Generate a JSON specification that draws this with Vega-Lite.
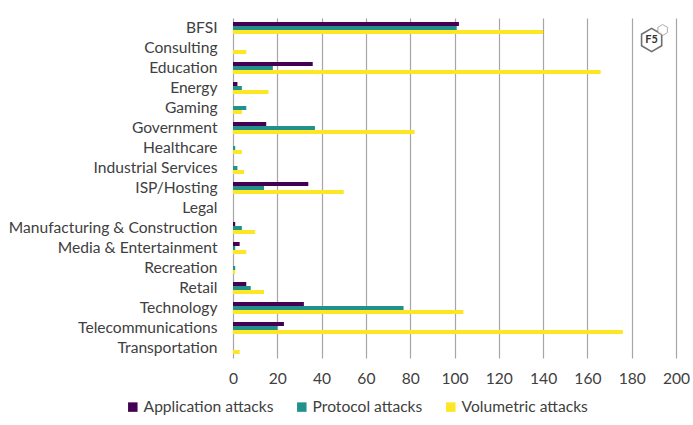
{
  "$schema": "https://vega.github.io/schema/vega-lite/v6.json",
  "width": 443,
  "height": 340,
  "autosize": "none",
  "padding": {"left": 233, "top": 18, "right": 17, "bottom": 67},
  "background": "white",
  "config": {
    "font": "Lato",
    "view": {"stroke": null}
  },
  "datasets": {
    "logo": [{"sector": "BFSI", "count": 189, "label": "F5"}]
  },
  "data": {
    "values": [
      {"sector": "BFSI", "type": "Application attacks", "count": 102},
      {"sector": "BFSI", "type": "Protocol attacks", "count": 101},
      {"sector": "BFSI", "type": "Volumetric attacks", "count": 140},
      {"sector": "Consulting", "type": "Application attacks", "count": 0},
      {"sector": "Consulting", "type": "Protocol attacks", "count": 0},
      {"sector": "Consulting", "type": "Volumetric attacks", "count": 6},
      {"sector": "Education", "type": "Application attacks", "count": 36},
      {"sector": "Education", "type": "Protocol attacks", "count": 18},
      {"sector": "Education", "type": "Volumetric attacks", "count": 166},
      {"sector": "Energy", "type": "Application attacks", "count": 2},
      {"sector": "Energy", "type": "Protocol attacks", "count": 4},
      {"sector": "Energy", "type": "Volumetric attacks", "count": 16},
      {"sector": "Gaming", "type": "Application attacks", "count": 0},
      {"sector": "Gaming", "type": "Protocol attacks", "count": 6},
      {"sector": "Gaming", "type": "Volumetric attacks", "count": 4},
      {"sector": "Government", "type": "Application attacks", "count": 15},
      {"sector": "Government", "type": "Protocol attacks", "count": 37},
      {"sector": "Government", "type": "Volumetric attacks", "count": 82},
      {"sector": "Healthcare", "type": "Application attacks", "count": 0},
      {"sector": "Healthcare", "type": "Protocol attacks", "count": 1},
      {"sector": "Healthcare", "type": "Volumetric attacks", "count": 4},
      {"sector": "Industrial Services", "type": "Application attacks", "count": 0},
      {"sector": "Industrial Services", "type": "Protocol attacks", "count": 2},
      {"sector": "Industrial Services", "type": "Volumetric attacks", "count": 5},
      {"sector": "ISP/Hosting", "type": "Application attacks", "count": 34},
      {"sector": "ISP/Hosting", "type": "Protocol attacks", "count": 14},
      {"sector": "ISP/Hosting", "type": "Volumetric attacks", "count": 50},
      {"sector": "Legal", "type": "Application attacks", "count": 0},
      {"sector": "Legal", "type": "Protocol attacks", "count": 0},
      {"sector": "Legal", "type": "Volumetric attacks", "count": 0},
      {"sector": "Manufacturing & Construction", "type": "Application attacks", "count": 1},
      {"sector": "Manufacturing & Construction", "type": "Protocol attacks", "count": 4},
      {"sector": "Manufacturing & Construction", "type": "Volumetric attacks", "count": 10},
      {"sector": "Media & Entertainment", "type": "Application attacks", "count": 3},
      {"sector": "Media & Entertainment", "type": "Protocol attacks", "count": 1},
      {"sector": "Media & Entertainment", "type": "Volumetric attacks", "count": 6},
      {"sector": "Recreation", "type": "Application attacks", "count": 0},
      {"sector": "Recreation", "type": "Protocol attacks", "count": 1},
      {"sector": "Recreation", "type": "Volumetric attacks", "count": 1},
      {"sector": "Retail", "type": "Application attacks", "count": 6},
      {"sector": "Retail", "type": "Protocol attacks", "count": 8},
      {"sector": "Retail", "type": "Volumetric attacks", "count": 14},
      {"sector": "Technology", "type": "Application attacks", "count": 32},
      {"sector": "Technology", "type": "Protocol attacks", "count": 77},
      {"sector": "Technology", "type": "Volumetric attacks", "count": 104},
      {"sector": "Telecommunications", "type": "Application attacks", "count": 23},
      {"sector": "Telecommunications", "type": "Protocol attacks", "count": 20},
      {"sector": "Telecommunications", "type": "Volumetric attacks", "count": 176},
      {"sector": "Transportation", "type": "Application attacks", "count": 0},
      {"sector": "Transportation", "type": "Protocol attacks", "count": 0},
      {"sector": "Transportation", "type": "Volumetric attacks", "count": 3}
    ]
  },
  "encoding": {
    "y": {
      "field": "sector",
      "type": "nominal",
      "sort": null,
      "title": null,
      "scale": {"paddingInner": 0.4, "paddingOuter": 0.2},
      "axis": {
        "ticks": false,
        "domain": false,
        "labelPadding": 16,
        "labelFontSize": 15.6,
        "labelColor": "#404040",
        "labelLimit": 300
      }
    },
    "x": {
      "field": "count",
      "type": "quantitative",
      "title": null,
      "scale": {"domain": [0, 200], "nice": false},
      "axis": {
        "values": [0, 20, 40, 60, 80, 100, 120, 140, 160, 180, 200],
        "ticks": false,
        "domain": false,
        "grid": true,
        "gridColor": "#a6a6a6",
        "gridWidth": 1.2,
        "labelFlush": false,
        "labelFontSize": 15.6,
        "labelColor": "#404040",
        "labelPadding": 13
      }
    }
  },
  "layer": [
    {
      "mark": {"type": "bar"},
      "encoding": {
        "yOffset": {
          "field": "type",
          "type": "nominal",
          "sort": ["Application attacks", "Protocol attacks", "Volumetric attacks"]
        },
        "color": {
          "field": "type",
          "type": "nominal",
          "title": null,
          "scale": {
            "domain": ["Application attacks", "Protocol attacks", "Volumetric attacks"],
            "range": ["#440154", "#21918c", "#fde725"]
          },
          "legend": {
            "orient": "none",
            "legendX": -108,
            "legendY": 381,
            "direction": "horizontal",
            "symbolType": "square",
            "symbolSize": 90,
            "symbolStrokeWidth": 0,
            "labelFontSize": 15.6,
            "labelColor": "#404040",
            "columnPadding": 20,
            "labelOffset": 3,
            "labelLimit": 300
          }
        }
      }
    },
    {
      "data": {"name": "logo"},
      "mark": {
        "type": "point",
        "shape": "M0,-1L0.866,-0.5L0.866,0.5L0,1L-0.866,0.5L-0.866,-0.5Z",
        "size": 540,
        "filled": false,
        "stroke": "#333333",
        "strokeWidth": 1.6,
        "yOffset": 12
      },
      "encoding": {}
    },
    {
      "data": {"name": "logo"},
      "mark": {
        "type": "point",
        "shape": "M0,-1L0.866,-0.5L0.866,0.5L0,1L-0.866,0.5L-0.866,-0.5Z",
        "size": 120,
        "filled": true,
        "fill": "white",
        "stroke": "#888888",
        "strokeWidth": 1,
        "xOffset": 11,
        "yOffset": 2
      },
      "encoding": {}
    },
    {
      "data": {"name": "logo"},
      "mark": {
        "type": "text",
        "fontSize": 11,
        "fontWeight": "bold",
        "color": "#333333",
        "yOffset": 12
      },
      "encoding": {"text": {"field": "label"}}
    }
  ]
}
